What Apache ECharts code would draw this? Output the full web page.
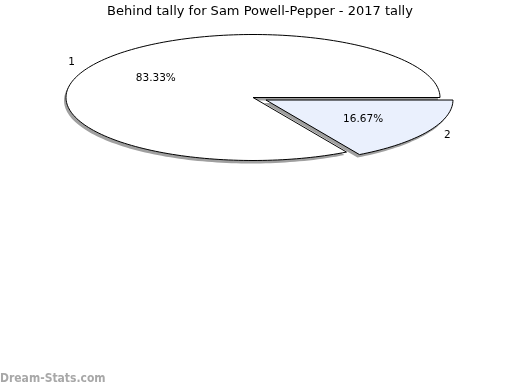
<!DOCTYPE html>
<html><head><meta charset="utf-8">
<script src="https://cdn.jsdelivr.net/npm/echarts@6/dist/echarts.min.js"></script>
<style>html,body{margin:0;padding:0;background:#fff}#c{width:520px;height:390px}</style>
</head><body><div id="c"></div>
<script>
const titleText = 'Behind tally for Sam Powell-Pepper - 2017 tally';
const categories = ['1', '2'];
const values = [5, 1];
const sliceColors = ['#ffffff', '#eaf0fd'];
const explode = [0, 0.08];

const CX = 253, CY = 97.5, RX = 187, RY = 63;
const total = values.reduce((a, b) => a + b, 0);
const starts = values.map((v, i) => values.slice(0, i).reduce((a, b) => a + b, 0));
const dataRows = values.map((v, i) => [v, starts[i]]);

function geom(api, idx) {
  const v = api.value(0), s = api.value(1);
  const a0 = s / total * Math.PI * 2, a1 = (s + v) / total * Math.PI * 2;
  const m = (a0 + a1) / 2;
  const k = explode[idx];
  const cx = CX + k * RX * Math.cos(m), cy = CY - k * RY * Math.sin(m);
  const pts = [[cx, cy]];
  const n = Math.max(8, Math.ceil((a1 - a0) / (Math.PI * 2) * 240));
  for (let j = 0; j <= n; j++) {
    const a = a0 + (a1 - a0) * j / n;
    pts.push([cx + RX * Math.cos(a), cy - RY * Math.sin(a)]);
  }
  return { pts, cx, cy, m, v };
}

const chart = echarts.init(document.getElementById('c'), null, { renderer: 'canvas' });
chart.setOption({
  animation: false,
  backgroundColor: '#ffffff',
  title: {
    text: titleText, left: 'center', top: 0,
    textStyle: { fontFamily: 'DejaVu Sans', fontSize: 13, fontWeight: 'normal', color: '#000' }
  },
  graphic: [{
    type: 'text', left: 0, top: 373,
    style: { text: 'Dream-Stats.com', fontFamily: 'DejaVu Sans Condensed', fontSize: 12, fontWeight: 'bold', fill: '#a8a8a8' }
  }],
  series: [{
    type: 'custom', coordinateSystem: 'none', z: 1,
    data: dataRows,
    renderItem: function (params, api) {
      const g = geom(api, params.dataIndex);
      return {
        type: 'polygon',
        shape: { points: g.pts.map(p => [p[0] - 2, p[1] + 3]) },
        style: { fill: '#a0a0a0', stroke: null }
      };
    }
  }, {
    type: 'custom', coordinateSystem: 'none', z: 2,
    data: dataRows,
    renderItem: function (params, api) {
      const i = params.dataIndex;
      const g = geom(api, i);
      const pct = (g.v / total * 100).toFixed(2) + '%';
      return {
        type: 'group',
        children: [{
          type: 'polygon',
          shape: { points: g.pts },
          style: { fill: sliceColors[i], stroke: '#000', lineWidth: 1 }
        }, {
          type: 'text',
          style: {
            text: pct, x: g.cx + 0.6 * RX * Math.cos(g.m), y: g.cy - 0.6 * RY * Math.sin(g.m),
            align: 'center', verticalAlign: 'middle',
            fontFamily: 'DejaVu Sans', fontSize: 10.5, fill: '#000'
          }
        }, {
          type: 'text',
          style: {
            text: categories[i], x: g.cx + 1.12 * RX * Math.cos(g.m), y: g.cy - 1.12 * RY * Math.sin(g.m),
            align: 'center', verticalAlign: 'middle',
            fontFamily: 'DejaVu Sans', fontSize: 10.5, fill: '#000'
          }
        }]
      };
    }
  }]
});
</script></body></html>
